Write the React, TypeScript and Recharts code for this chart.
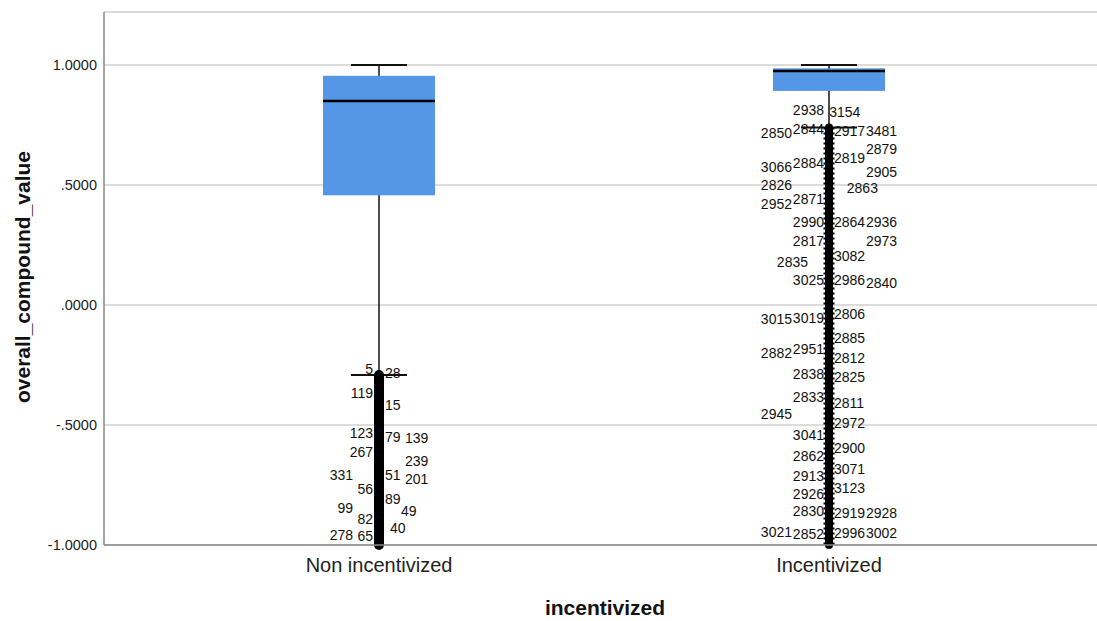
import React from 'react';
import { ComposedChart, Bar, XAxis, YAxis, CartesianGrid } from 'recharts';

// ---- data ----
const categories = ['Non incentivized', 'Incentivized'];
const whiskerHigh = [1.0, 1.0];
const q3 = [0.955, 0.986];
const median = [0.85, 0.975];
const q1 = [0.457, 0.892];
const whiskerLow = [-0.292, 0.74];
const outlierTop = [-0.292, 0.74];
const outlierBottom = [-1.0, -1.0];

const yTicks = [-1, -0.5, 0, 0.5, 1];
const yTickLabels = ['-1.0000', '-.5000', '.0000', '.5000', '1.0000'];

// outlier case labels: id, value, column (neg = left of the box, pos = right)
const nonIds = ['5', '28', '119', '15', '123', '79', '139', '267', '239', '331', '51', '201', '56', '89', '99', '49', '82', '40', '278', '65'];
const nonValues = [-0.267, -0.283, -0.367, -0.417, -0.533, -0.55, -0.554, -0.613, -0.65, -0.708, -0.708, -0.725, -0.767, -0.808, -0.846, -0.858, -0.892, -0.929, -0.958, -0.963];
const nonCols = [-1, 1, -1, 1, -1, 1, 2, -1, 2, -2, 1, 2, -1, 1, -2, 1.8, -1, 1.25, -2, -1];

const incIds = ['2938', '3154', '2850', '2844', '2917', '3481', '2879', '3066', '2884', '2819', '2905', '2826', '2863', '2871', '2952', '2990', '2864', '2936', '2817', '2973', '2835', '3082', '3025', '2986', '2840', '3015', '3019', '2806', '2885', '2882', '2951', '2812', '2838', '2825', '2833', '2811', '2945', '2972', '3041', '2900', '2862', '3071', '2913', '3123', '2926', '2830', '2919', '2928', '3021', '2852', '2996', '3002'];
const incValues = [0.813, 0.804, 0.717, 0.733, 0.725, 0.725, 0.65, 0.575, 0.592, 0.613, 0.554, 0.5, 0.488, 0.442, 0.421, 0.346, 0.346, 0.346, 0.267, 0.267, 0.179, 0.204, 0.104, 0.104, 0.092, -0.058, -0.054, -0.038, -0.138, -0.2, -0.183, -0.221, -0.288, -0.3, -0.383, -0.408, -0.454, -0.492, -0.542, -0.596, -0.629, -0.683, -0.713, -0.763, -0.788, -0.858, -0.867, -0.867, -0.946, -0.954, -0.95, -0.95];
const incCols = [-1, 0.85, -2, -1, 1, 2, 2, -2, -1, 1, 2, -2, 1.4, -1, -2, -1, 1, 2, -1, 2, -1.5, 1, -1, 1, 2, -2, -1, 1, 1, -2, -1, 1, -1, 1, -1, 1, -2, 1, -1, 1, -1, 1, -1, 1, -1, -1, 1, 2, -2, -1, 1, 2];

const labelIds = [nonIds, incIds];
const labelValues = [nonValues, incValues];
const labelCols = [nonCols, incCols];

const data = categories.map((name, i) => ({
  name,
  extent: [outlierBottom[i], whiskerHigh[i]],
  whiskerHigh: whiskerHigh[i],
  q3: q3[i],
  median: median[i],
  q1: q1[i],
  whiskerLow: whiskerLow[i],
  outlierTop: outlierTop[i],
  outlierBottom: outlierBottom[i],
  ids: labelIds[i],
  values: labelValues[i],
  cols: labelCols[i],
}));

// ---- styling ----
const FONT = '"Liberation Sans", Arial, sans-serif';
const BOX_FILL = '#5596e6';
const LABEL_GAP = [6, 5];
const LABEL_STEP = [20, 32];

const BoxShape = (props: any) => {
  const { x, y, width, height, payload, index } = props;
  if (!payload) return null;
  const top = Math.min(y, y + height);
  const h = Math.abs(height);
  const lo = payload.extent[0];
  const hi = payload.extent[1];
  const py = (v: number) => top + ((hi - v) / (hi - lo)) * h;
  const cx = x + width / 2;
  const capHalf = width * 0.25;
  const gap = LABEL_GAP[index] ?? 5;
  const step = LABEL_STEP[index] ?? 30;
  const textX = (c: number) =>
    c < 0 ? cx - gap - (Math.abs(c) - 1) * step : cx + gap + (c - 1) * step;
  return (
    <g>
      <line x1={cx} x2={cx} y1={py(payload.whiskerHigh)} y2={py(payload.whiskerLow)} stroke="#111" strokeWidth={1.5} />
      <rect x={x} y={py(payload.q3)} width={width} height={py(payload.q1) - py(payload.q3)} fill={BOX_FILL} />
      <line x1={x} x2={x + width} y1={py(payload.median)} y2={py(payload.median)} stroke="#000" strokeWidth={2.5} />
      <line x1={cx - capHalf} x2={cx + capHalf} y1={py(payload.whiskerHigh)} y2={py(payload.whiskerHigh)} stroke="#111" strokeWidth={2} />
      <line x1={cx - capHalf} x2={cx + capHalf} y1={py(payload.whiskerLow)} y2={py(payload.whiskerLow)} stroke="#111" strokeWidth={2} />
      {payload.ids.map((id: string, k: number) => {
        const c = payload.cols[k];
        return (
          <text
            key={id}
            x={textX(c)}
            y={py(payload.values[k])}
            textAnchor={c < 0 ? 'end' : 'start'}
            dominantBaseline="central"
            fontSize={14}
            fontFamily={FONT}
            fill="#111"
          >
            {id}
          </text>
        );
      })}
      <line x1={cx} x2={cx} y1={py(payload.outlierTop)} y2={py(payload.outlierBottom)} stroke="#000" strokeWidth={index === 0 ? 10 : 8} strokeLinecap="round" />
      {index === 1 && (
        <line x1={cx} x2={cx} y1={py(payload.outlierTop)} y2={py(payload.outlierBottom)} stroke="#000" strokeWidth={11} strokeDasharray="2 3" />
      )}
    </g>
  );
};

export default function App() {
  return (
    <div style={{ position: 'absolute', left: 0, top: 0, width: 1097, height: 621, background: '#fff' }}>
      <ComposedChart width={1097} height={621} data={data} margin={{ top: 12, right: 0, bottom: 0, left: 0 }}>
        <CartesianGrid vertical={false} stroke="#d0d0d0" strokeWidth={1.5} />
        <XAxis
          dataKey="name"
          type="category"
          padding={{ left: 50, right: 43 }}
          height={76}
          tickLine={false}
          tickSize={0}
          tickMargin={13}
          axisLine={{ stroke: '#888', strokeWidth: 1.5 }}
          tick={{ fontSize: 20, fill: '#222', fontFamily: FONT }}
        />
        <YAxis
          type="number"
          domain={[-1, 1.2208]}
          ticks={yTicks}
          width={104}
          tickLine={false}
          tickSize={0}
          tickMargin={7}
          axisLine={{ stroke: '#888', strokeWidth: 1.5 }}
          tick={{ fontSize: 14.5, fill: '#222', fontFamily: FONT }}
          tickFormatter={(v: number) => yTickLabels[yTicks.indexOf(v)] ?? String(v)}
        />
        <Bar dataKey="extent" barSize={112} shape={BoxShape} isAnimationActive={false} />
      </ComposedChart>
      <div
        style={{
          position: 'absolute',
          left: 22,
          top: 277,
          transform: 'translate(-50%, -50%) rotate(-90deg)',
          whiteSpace: 'nowrap',
          fontFamily: FONT,
          fontWeight: 'bold',
          fontSize: 21,
          color: '#111',
          lineHeight: 1,
        }}
      >
        overall_compound_value
      </div>
      <div
        style={{
          position: 'absolute',
          left: 605,
          top: 607,
          transform: 'translate(-50%, -50%)',
          whiteSpace: 'nowrap',
          fontFamily: FONT,
          fontWeight: 'bold',
          fontSize: 21,
          color: '#111',
          lineHeight: 1,
        }}
      >
        incentivized
      </div>
    </div>
  );
}
